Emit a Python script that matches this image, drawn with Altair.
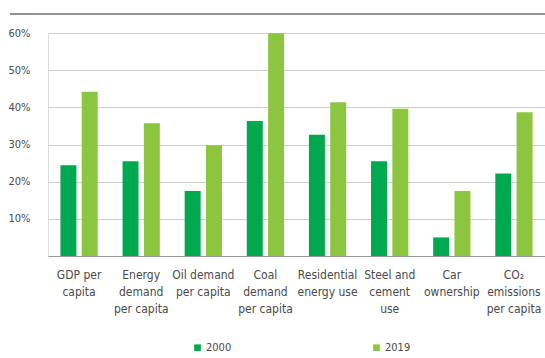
import altair as alt
import pandas as pd

categories = ["GDP per|capita", "Energy|demand|per capita", "Oil demand|per capita",
              "Coal|demand|per capita", "Residential|energy use", "Steel and|cement|use",
              "Car|ownership", "CO₂|emissions|per capita"]
years = ["2000", "2019"]
values_2000 = [24.4, 25.5, 17.5, 36.3, 32.6, 25.5, 5.0, 22.2]
values_2019 = [44.2, 35.7, 29.8, 59.9, 41.4, 39.6, 17.5, 38.7]
y_ticks = [0.1, 0.2, 0.3, 0.4, 0.5, 0.6]
colors = ["#00a94f", "#8cc63f"]

rows = []
for c, a, b in zip(categories, values_2000, values_2019):
    rows.append({"cat": c, "year": years[0], "v": a / 100})
    rows.append({"cat": c, "year": years[1], "v": b / 100})
df = pd.DataFrame(rows)

FONT = "DejaVu Sans Condensed"

bars = alt.Chart(df).mark_bar().encode(
    x=alt.X("cat:N", sort=categories,
            scale=alt.Scale(paddingInner=0.4, paddingOuter=0.2),
            axis=alt.Axis(title=None, labelAngle=0, ticks=False, domainColor="#9a9a9a",
                          labelExpr="split(datum.label, '|')", labelPadding=13,
                          labelLineHeight=17, labelFont=FONT, labelFontSize=12,
                          labelColor="#4a4a4a", grid=False)),
    xOffset=alt.XOffset("year:N", scale=alt.Scale(paddingInner=0.25, paddingOuter=0)),
    y=alt.Y("v:Q", scale=alt.Scale(domain=[0, 0.6], nice=False),
            axis=alt.Axis(title=None, values=y_ticks, format=".0%", domain=False, ticks=False,
                          labelPadding=18, gridColor="#cfcfcf", gridWidth=1.2,
                          labelFont=FONT, labelFontSize=11, labelColor="#4a4a4a")),
    color=alt.Color("year:N", scale=alt.Scale(domain=years, range=colors),
                    legend=alt.Legend(title=None, orient="none", legendX=144, legendY=309,
                                      direction="horizontal", symbolType="square",
                                      symbolSize=45, symbolStrokeWidth=0, columnPadding=139,
                                      labelFont=FONT, labelFontSize=11, labelColor="#4a4a4a",
                                      labelOffset=3, padding=0)),
)

top_rule = alt.Chart(pd.DataFrame({"a": [0]})).mark_rule(color="#6e6e6e", strokeWidth=1.5).encode(
    x=alt.value(-38), x2=alt.value(497), y=alt.value(-19)
)

chart = alt.layer(bars, top_rule).properties(
    width=497, height=223,
    autosize=alt.AutoSizeParams(type="none"),
    padding={"left": 48, "top": 33, "right": 0, "bottom": 102},
).configure_view(stroke=None).configure(background="white")

chart.save("out.html", embed_options={"renderer": "svg", "actions": False})
